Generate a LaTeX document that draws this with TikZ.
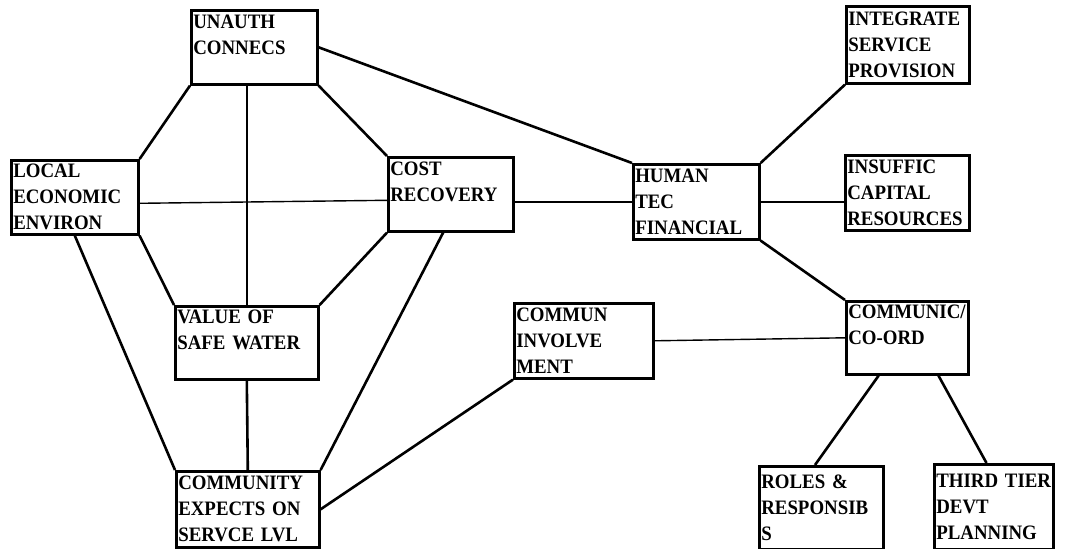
\documentclass[tikz,border=0pt]{standalone}
\usepackage{fontspec}
\setmainfont{Liberation Serif}[FakeStretch=0.92]
\usetikzlibrary{calc}

\tikzset{
	factor/.style={draw, line width=2.6pt, anchor=north west, align=left,
		inner xsep=2pt, inner ysep=2pt,
		font=\fontsize{20.5}{26}\selectfont\bfseries},
	link/.style={line width=2.6pt},
	thinlink/.style={line width=1.4pt}
}

\begin{document}
\begin{tikzpicture}[x=1pt, y=-1pt]
			\useasboundingbox[fill=white] (0,0) rectangle (1069,549);

			\node[factor, text width=122, minimum height=74] (unauth) at (190,9) {UNAUTH\\CONNECS\\\mbox{}};
			\node[factor, text width=123, minimum height=74] (local) at (10,159) {LOCAL\\ECONOMIC\\ENVIRON};
			\node[factor, text width=121, minimum height=74] (cost) at (387,156) {COST\\RECOVERY\\\mbox{}};
			\node[factor, text width=139, minimum height=73] (value) at (174,305) {VALUE OF\\SAFE WATER\\\mbox{}};
			\node[factor, text width=139, minimum height=76] (expects) at (175,470) {COMMUNITY\\EXPECTS ON\\SERVCE LVL};
			\node[factor, text width=122, minimum height=75] (human) at (632,163) {HUMAN\\TEC\\FINANCIAL};
			\node[factor, text width=119, minimum height=77] (integrate) at (845,5) {INTEGRATE\\SERVICE\\PROVISION};
			\node[factor, text width=120, minimum height=75] (capital) at (844,154) {INSUFFIC\\CAPITAL\\RESOURCES};
			\node[factor, text width=135, minimum height=75] (involve) at (513,302) {COMMUN\\INVOLVE\\MENT};
			\node[factor, text width=118, minimum height=73] (coord) at (845,300) {COMMUNIC/\\CO-ORD\\\mbox{}};
			\node[factor, text width=120, minimum height=83] (roles) at (758,465) {ROLES \&\\RESPONSIB\\S};
			\node[factor, text width=115, minimum height=85] (tier) at (933,463) {THIRD TIER\\DEVT\\PLANNING};

			% left cluster
			\draw[link] (unauth.south west) -- (local.north east);
			\draw[link] (value.north) -- (value.north |- unauth.south);
			\draw[link] (unauth.south east) -- (cost.north west);
			\draw[thinlink] ($(local.east)+(0,6)$) -- ($(cost.west)+(0,6)$);
			\draw[link] (local.south) -- (expects.north west);
			\draw[link] (local.south east) -- (value.north west);
			\draw[link] (cost.south west) -- (value.north east);
			\draw[link] ($(cost.south west)!0.44!(cost.south east)$) -- (expects.north east);
			\draw[link] (value.south) -- (expects.north);
			\draw[link] (expects.east) -- (involve.south west);

			% right cluster
			\draw[link] (unauth.east) -- (human.north west);
			\draw[thinlink] (human.west) -- (human.west -| cost.east);
			\draw[link] (human.north east) -- (integrate.south west);
			\draw[thinlink] (human.east) -- (human.east -| capital.west);
			\draw[link] (human.south east) -- (coord.north west);
			\draw[thinlink] (involve.east) -- (coord.west);
			\draw[link] ($(coord.south west)!0.27!(coord.south east)$) -- ($(roles.north west)!0.45!(roles.north east)$);
			\draw[link] ($(coord.south west)!0.75!(coord.south east)$) -- ($(tier.north west)!0.44!(tier.north east)$);
\end{tikzpicture}
\end{document}
